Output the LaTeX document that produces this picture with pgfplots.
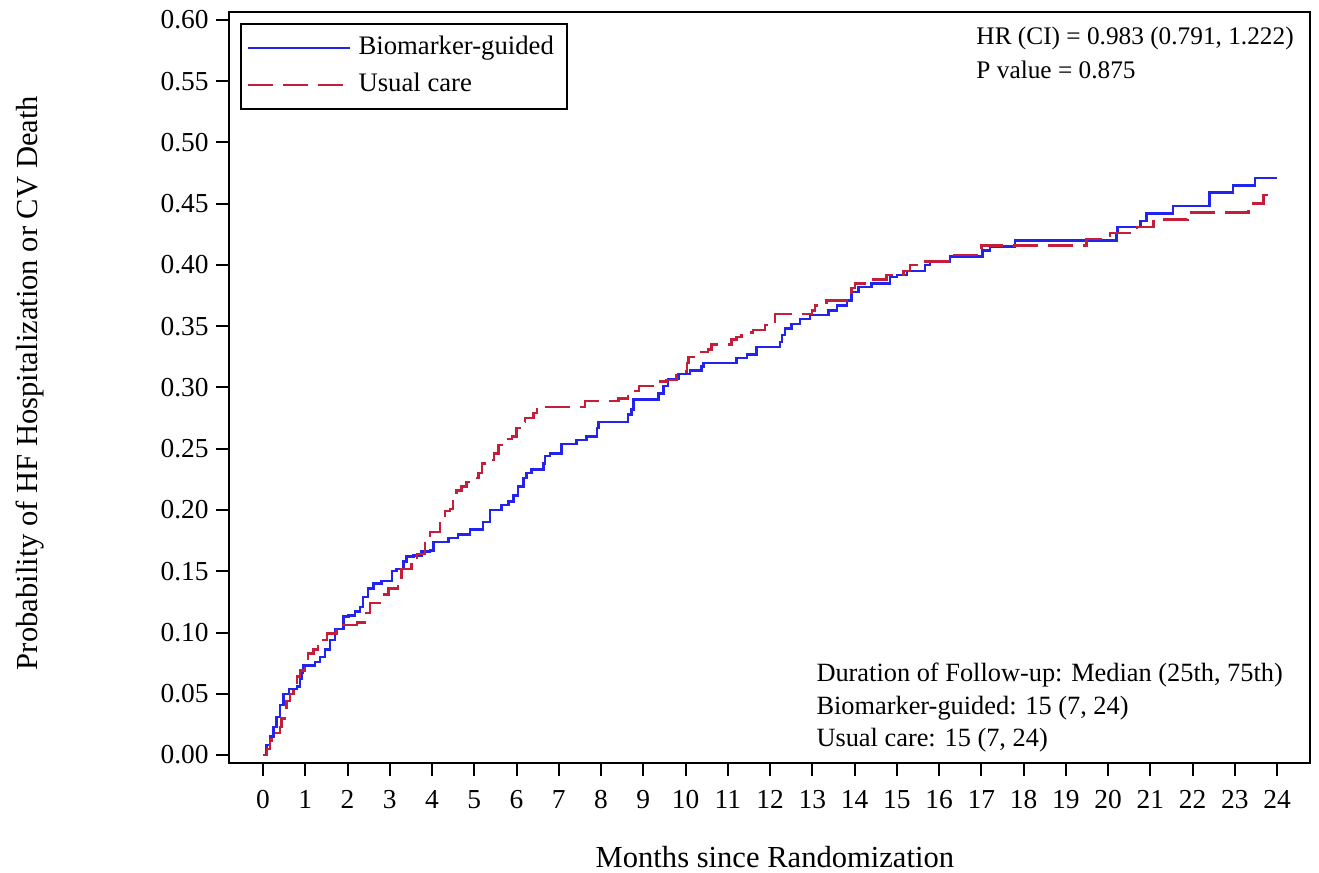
\documentclass[border=0pt]{standalone}
\usepackage{fontspec}
\setmainfont{Liberation Serif}
\usepackage{pgfplots}
\pgfplotsset{compat=1.18}
\definecolor{bmblue}{HTML}{2323EE}
\definecolor{ucred}{HTML}{C41E3A}

% step data: time (months), cumulative probability after the step
\pgfplotstableread{
t p
0 0
0.08 0.008
0.17 0.015
0.25 0.023
0.32 0.031
0.40 0.041
0.48 0.050
0.62 0.054
0.80 0.056
0.88 0.062
0.92 0.067
0.95 0.073
1.23 0.076
1.35 0.080
1.47 0.086
1.59 0.094
1.70 0.103
1.90 0.113
2.02 0.114
2.18 0.117
2.30 0.121
2.37 0.129
2.49 0.136
2.61 0.140
2.80 0.142
3.05 0.150
3.16 0.152
3.32 0.158
3.40 0.162
3.56 0.163
3.75 0.166
3.95 0.167
4.03 0.174
4.39 0.177
4.62 0.180
4.90 0.184
5.21 0.190
5.37 0.200
5.65 0.204
5.81 0.207
5.93 0.212
6.04 0.219
6.16 0.226
6.24 0.230
6.36 0.233
6.64 0.238
6.67 0.244
6.79 0.246
7.07 0.254
7.42 0.257
7.66 0.260
7.90 0.267
7.94 0.272
8.64 0.278
8.72 0.282
8.77 0.290
9.36 0.295
9.48 0.301
9.59 0.307
9.83 0.311
10.11 0.314
10.38 0.317
10.42 0.320
11.21 0.324
11.45 0.327
11.68 0.333
12.24 0.337
12.28 0.343
12.36 0.348
12.51 0.352
12.71 0.356
12.95 0.359
13.38 0.363
13.58 0.367
13.82 0.371
13.93 0.378
14.09 0.382
14.40 0.385
14.84 0.390
15.00 0.392
15.24 0.395
15.67 0.400
15.79 0.403
16.26 0.407
17.03 0.412
17.21 0.415
17.80 0.420
20.20 0.426
20.22 0.431
20.77 0.436
20.91 0.442
21.54 0.448
22.40 0.459
22.96 0.465
23.48 0.471
24.00 0.471
}\biomarker

\pgfplotstableread{
t p
0 0
0.09 0.005
0.17 0.012
0.20 0.016
0.32 0.018
0.40 0.023
0.44 0.030
0.52 0.037
0.56 0.044
0.64 0.050
0.72 0.057
0.80 0.064
0.88 0.069
0.99 0.076
1.07 0.083
1.19 0.086
1.30 0.090
1.43 0.094
1.51 0.099
1.74 0.105
1.90 0.106
2.22 0.108
2.45 0.116
2.53 0.124
2.77 0.127
2.81 0.131
2.97 0.136
3.20 0.141
3.28 0.152
3.52 0.156
3.64 0.164
3.83 0.173
3.95 0.182
4.19 0.189
4.31 0.199
4.43 0.201
4.50 0.207
4.58 0.216
4.70 0.219
4.82 0.223
4.94 0.226
5.10 0.230
5.18 0.238
5.45 0.241
5.47 0.246
5.57 0.253
5.77 0.258
5.89 0.260
6.00 0.267
6.08 0.272
6.20 0.275
6.40 0.279
6.48 0.282
6.56 0.284
7.62 0.289
8.41 0.291
8.64 0.294
8.72 0.297
8.90 0.301
9.32 0.305
9.55 0.306
9.79 0.313
10.03 0.320
10.07 0.325
10.27 0.329
10.53 0.331
10.62 0.335
11.09 0.339
11.21 0.341
11.33 0.345
11.60 0.347
11.88 0.351
11.96 0.354
12.12 0.360
12.99 0.363
13.07 0.367
13.34 0.371
13.86 0.376
13.93 0.381
14.01 0.385
14.44 0.388
14.76 0.392
15.16 0.395
15.31 0.400
15.59 0.403
16.22 0.408
16.97 0.412
17.01 0.416
19.49 0.421
20.05 0.426
20.69 0.431
21.07 0.437
21.88 0.443
23.32 0.450
23.68 0.457
24.00 0.457
}\usualcare

\begin{document}
\begin{tikzpicture}
\useasboundingbox (-22.9mm,-11.0mm) rectangle (109.0mm,76.3mm);
\begin{axis}[
    at={(0,0)}, anchor=south west,
    width=108.1mm, height=75.1mm, scale only axis,
    xmin=-0.805, xmax=24.78,
    ymin=-0.0065, ymax=0.6065,
    xtick={0,1,...,24},
    ytick={0,0.05,0.10,0.15,0.20,0.25,0.30,0.35,0.40,0.45,0.50,0.55,0.60},
    xtick pos=bottom, ytick pos=left,
    tick align=outside,
    major tick length=1.3mm,
    tick style={black, line width=0.2mm},
    axis line style={line width=0.2mm},
    /pgf/number format/assume math mode=true,
    tick label style={font=\fontsize{7.8}{9}\selectfont},
    yticklabel style={/pgf/number format/fixed, /pgf/number format/fixed zerofill, /pgf/number format/precision=2, xshift=0.5mm},
    xticklabel style={yshift=-0.2mm},
    scaled y ticks=false,
    xlabel={Months since Randomization},
    ylabel={Probability of HF Hospitalization or CV Death},
    label style={font=\fontsize{8.7}{10}\selectfont},
    xlabel style={at={(axis description cs:0.505,0)}, anchor=center, yshift=-9.4mm},
    ylabel style={at={(axis description cs:0,0.506)}, anchor=center, yshift=19.9mm},
    legend cell align=left,
    legend style={at={(axis description cs:0.0102,0.985)}, anchor=north west,
        draw=black, line width=0.2mm, font=\fontsize{7.6}{9}\selectfont,
        inner xsep=0.6mm, inner ysep=0.5mm, row sep=-0.1mm},
    legend image code/.code={\draw[#1] (0mm,0mm) -- (10.2mm,0mm);},
]
\addplot[const plot, bmblue, line width=0.25mm] table[x=t, y=p] {\biomarker};
\addlegendentry{Biomarker-guided}
\addplot[const plot, ucred, line width=0.25mm, dash pattern=on 2.5mm off 1mm] table[x=t, y=p] {\usualcare};
\addlegendentry{Usual care}

\node[anchor=base west, font=\fontsize{7.2}{9}\selectfont] at (axis description cs:0.680,0.957) {HR (CI) = 0.983 (0.791, 1.222)};
\node[anchor=base west, font=\fontsize{7.2}{9}\selectfont] at (axis description cs:0.680,0.912) {P value = 0.875};
\node[anchor=base west, font=\fontsize{7.5}{9}\selectfont] at (axis description cs:0.532,0.108) {Duration of Follow-up: Median (25th, 75th)};
\node[anchor=base west, font=\fontsize{7.5}{9}\selectfont] at (axis description cs:0.532,0.0652) {Biomarker-guided: 15 (7, 24)};
\node[anchor=base west, font=\fontsize{7.5}{9}\selectfont] at (axis description cs:0.532,0.0213) {Usual care: 15 (7, 24)};
\end{axis}
\end{tikzpicture}
\end{document}
